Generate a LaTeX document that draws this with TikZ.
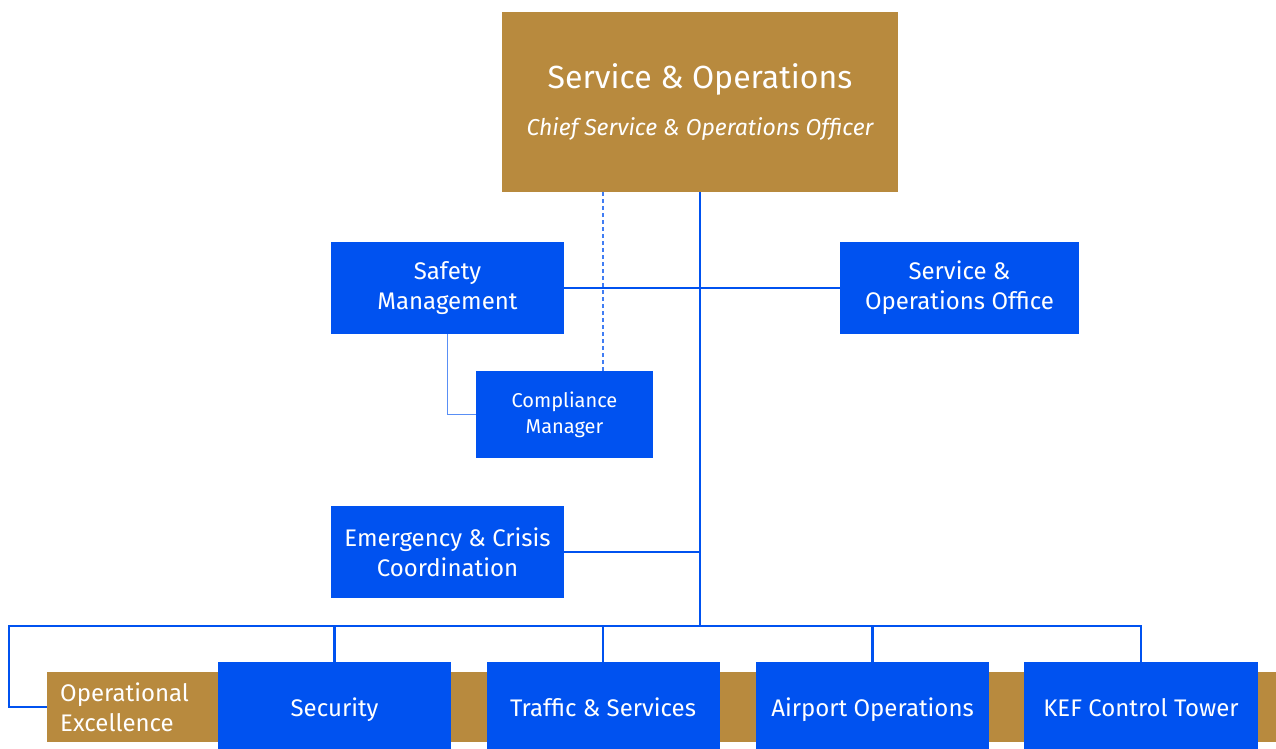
\documentclass[tikz,border=0pt]{standalone}
\usepackage{fontspec}
\setmainfont{Fira Sans}
\definecolor{isablue}{RGB}{0,82,240}
\definecolor{isagold}{RGB}{184,138,62}

\begin{document}
\begin{tikzpicture}[x=1pt, y=-1pt,
  box/.style={fill=isablue, text=white, align=center, inner sep=0pt, minimum width=233pt, minimum height=92pt, font=\fontsize{24}{30}\selectfont},
  rowbox/.style={box, minimum height=87pt, text height=26pt, text depth=4pt},
  goldbox/.style={fill=isagold, text=white, align=center, inner sep=0pt},
  link/.style={draw=isablue, line width=2.8pt},
  thinlink/.style={draw=isablue!65, line width=1.2pt},
  dotlink/.style={draw=isablue!75, line width=1.2pt, dash pattern=on 4pt off 3pt}]
\useasboundingbox (0,0) rectangle (1276,749);

\node[goldbox, minimum width=396pt, minimum height=180pt, font=\fontsize{32}{47}\selectfont] (top) at (700,102) {Service \& Operations\\{\fontsize{23}{25}\selectfont\itshape Chief Service \& Operations Officer}};
\node[box] (safety) at (447.5,288) {Safety\\Management};
\node[box, minimum width=239pt] (office) at (959.5,288) {Service \&\\Operations Office};
\node[box, minimum width=177pt, minimum height=87pt, font=\fontsize{20}{26}\selectfont] (comp) at (564.5,414.5) {Compliance\\Manager};
\node[box] (emerg) at (447.5,552) {Emergency \& Crisis\\Coordination};

% bottom row
\node[goldbox, minimum width=1229pt, minimum height=70pt] (bar) at (661.5,707) {};
\node[text=white, align=left, anchor=west, inner sep=0pt, font=\fontsize{24}{30}\selectfont] (opex) at (60,707) {Operational\\Excellence};
\node[rowbox] (sec) at (334.5,705.5) {Security};
\node[rowbox] (traffic) at (603,705.5) {Traffic \& Services};
\node[rowbox] (airport) at (872.5,705.5) {Airport Operations};
\node[rowbox, minimum width=234pt] (kef) at (1141,705.5) {KEF Control Tower};

% connectors
\coordinate (hub) at (700,626);
\coordinate (busl) at (9,626);
\coordinate (dash) at (603,371);
\draw[link] (top.south) -- (hub);
\draw[link] (safety.east) -- (office.west);
\draw[link] (emerg.east) -- (emerg.east -| hub);
\draw[link] (bar.west) -| (busl) -| (kef.north);
\foreach \n in {sec, traffic, airport}
  \draw[link] (\n.north) -- (\n.north |- hub);
\draw[thinlink] (safety.south) |- (comp.west);
\draw[dotlink] (dash) -- (dash |- top.south);

\end{tikzpicture}
\end{document}
